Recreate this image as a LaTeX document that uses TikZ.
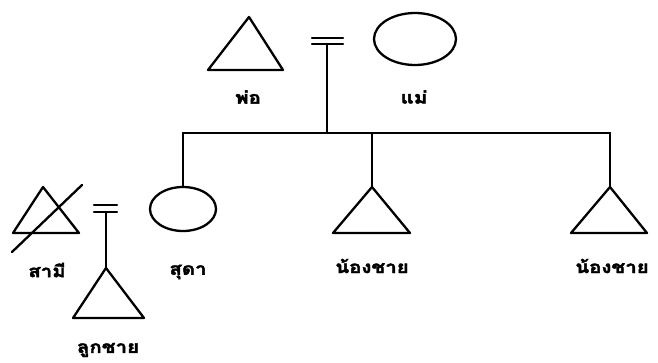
\documentclass[tikz,border=0pt]{standalone}
\usepackage{fontspec}
\newfontfamily\thaifont[Script=Thai,BoldFeatures={FakeBold=2}]{Loma}
\usetikzlibrary{shapes.geometric}
\begin{document}
\begin{tikzpicture}[x=1pt,y=-1pt,
  line/.style={line width=2.3pt,line cap=round,line join=round},
  female/.style={ellipse,draw,line width=2.3pt,inner sep=0pt},
  lbl/.style={font=\thaifont\bfseries\fontsize{17}{19}\selectfont,inner sep=0pt,xscale=1.2,transform shape}]
\useasboundingbox (0,0) rectangle (658,362);
\fill[white] (0,0) rectangle (658,362);
% coordinates
\coordinate (fa) at (249,17);  \coordinate (fl) at (208,70);  \coordinate (fr) at (283,70);
\node[female,minimum width=82pt,minimum height=52pt] (mother) at (415,39) {};
\coordinate (m1a) at (312,38); \coordinate (m1b) at (343,38);
\coordinate (m2a) at (312,44); \coordinate (m2b) at (343,44);
\coordinate (mdrop) at (327,44);
\coordinate (sl) at (183,133); \coordinate (sr) at (610,133);
\coordinate (mj) at (327,133);
\node[female,minimum width=66pt,minimum height=44pt] (suda) at (183,209) {};
\coordinate (b1top) at (372,133); \coordinate (b1a) at (372,187);
\coordinate (b1l) at (333,233); \coordinate (b1r) at (410,233);
\coordinate (b2a) at (610,187);
\coordinate (b2l) at (571,233); \coordinate (b2r) at (647,233);
\coordinate (ha) at (43,187); \coordinate (hl) at (13,233); \coordinate (hr) at (79,233);
\coordinate (x1) at (12,252); \coordinate (x2) at (82,185);
\coordinate (n1a) at (94,205); \coordinate (n1b) at (117,205);
\coordinate (n2a) at (94,212); \coordinate (n2b) at (117,212);
\coordinate (ndrop) at (106,212);
\coordinate (sa) at (106,268); \coordinate (sbl) at (73,318); \coordinate (sbr) at (144,318);
% father
\draw[line] (fa) -- (fl) -- (fr) -- cycle;
% parents marriage
\draw[line] (m1a) -- (m1b);
\draw[line] (m2a) -- (m2b);
\draw[line] (mdrop) -- (mj);
% sibship line
\draw[line] (sl) -- (sr);
\draw[line] (sl) -- (suda.north);
\draw[line] (b1top) -- (b1a);
\draw[line] (sr) -- (b2a);
% brothers
\draw[line] (b1a) -- (b1l) -- (b1r) -- cycle;
\draw[line] (b2a) -- (b2l) -- (b2r) -- cycle;
% husband (deceased)
\draw[line] (ha) -- (hl) -- (hr) -- cycle;
\draw[line] (x1) -- (x2);
% Suda marriage
\draw[line] (n1a) -- (n1b);
\draw[line] (n2a) -- (n2b);
\draw[line] (ndrop) -- (sa);
% son
\draw[line] (sa) -- (sbl) -- (sbr) -- cycle;
% labels
\node[lbl] (lfa) at (248,97) {พ่อ};
\node[lbl] (lmo) at (414,97) {แม่};
\node[lbl] (lhu) at (47,270) {สามี};
\node[lbl] (lsu) at (188,272) {สุดา};
\node[lbl] (lb1) at (372,266) {น้องชาย};
\node[lbl] (lb2) at (612,266) {น้องชาย};
\node[lbl] (lso) at (108,350) {ลูกชาย};
\end{tikzpicture}
\end{document}
